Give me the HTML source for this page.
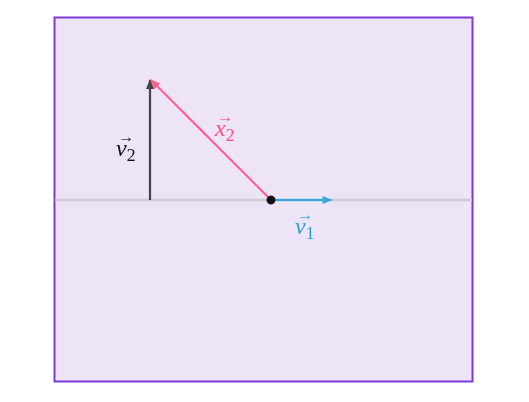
<!DOCTYPE html>
<html><head><meta charset="utf-8"><style>
html,body{margin:0;padding:0;background:#fff;}
svg{display:block;}
text{font-family:"Liberation Serif",serif;font-style:italic;}
</style></head><body>
<svg width="529" height="402" viewBox="0 0 529 402">
<defs>
<marker id="mb" markerWidth="10" markerHeight="8" refX="9" refY="4" orient="auto" markerUnits="userSpaceOnUse"><path d="M0,0 L10,4 L0,8 Z" fill="#3aa8d8"/></marker>
<marker id="mp" markerWidth="10" markerHeight="8" refX="9" refY="4" orient="auto" markerUnits="userSpaceOnUse"><path d="M0,0 L10,4 L0,8 Z" fill="#ff6090"/></marker>
<marker id="md" markerWidth="10" markerHeight="8" refX="9" refY="4" orient="auto" markerUnits="userSpaceOnUse"><path d="M0,0 L10,4 L0,8 Z" fill="#444"/></marker>
</defs>
<rect x="54.5" y="17.5" width="418" height="364" fill="#ede4f7" stroke="#7c3ad8" stroke-width="2"/>
<g id="g"></g>
</svg>
<script>
const origin=[0,0];
const v1=[1,0];
const v2Start=[-2,0];
const v2=[0,2];
const x2=[-2,2];
const S=60.5, OX=271, OY=200;
const sx=x=>OX+x*S, sy=y=>OY-y*S;
const g=document.getElementById('g');
const NS='http://www.w3.org/2000/svg';
function mk(t,a){const e=document.createElementNS(NS,t);for(const k in a)e.setAttribute(k,a[k]);g.appendChild(e);return e;}
let e=mk('line',{x1:55,x2:472,y1:sy(0),y2:sy(0),stroke:'#cfcbd3','stroke-width':2.5});


e=mk('line',{x1:sx(v2Start[0]),y1:sy(v2Start[1]),x2:sx(v2Start[0]+v2[0]),y2:sy(v2Start[1]+v2[1])+1,stroke:'#444','stroke-width':2.2,'marker-end':'url(#md)'});


e=mk('line',{x1:sx(origin[0]),y1:sy(origin[1]),x2:sx(x2[0])+1,y2:sy(x2[1])+1,stroke:'#ff6090','stroke-width':2.2,'marker-end':'url(#mp)'});


e=mk('line',{x1:sx(origin[0]),y1:sy(origin[1]),x2:sx(v1[0]),y2:sy(v1[1]),stroke:'#3aa8d8','stroke-width':2.2,'marker-end':'url(#mb)'});


e=mk('circle',{cx:sx(0),cy:sy(0),r:4.5,fill:'#111'});


function lbl(txt,x,y,c,name){const t=mk('text',{x:x,y:y,fill:c,'font-size':24});t.innerHTML=txt;
const a=mk('text',{x:x+2,y:y-14,fill:c,'font-size':16,'font-style':'normal'});a.textContent='→';}
lbl('v<tspan font-style="normal" font-size="18" dy="5">2</tspan>',116,156,'#111','label-v2');
lbl('x<tspan font-style="normal" font-size="18" dy="5">2</tspan>',215,136,'#ff4d80','label-x2');
lbl('v<tspan font-style="normal" font-size="18" dy="5">1</tspan>',295,234,'#2a9fd6','label-v1');
</script>
</body></html>
